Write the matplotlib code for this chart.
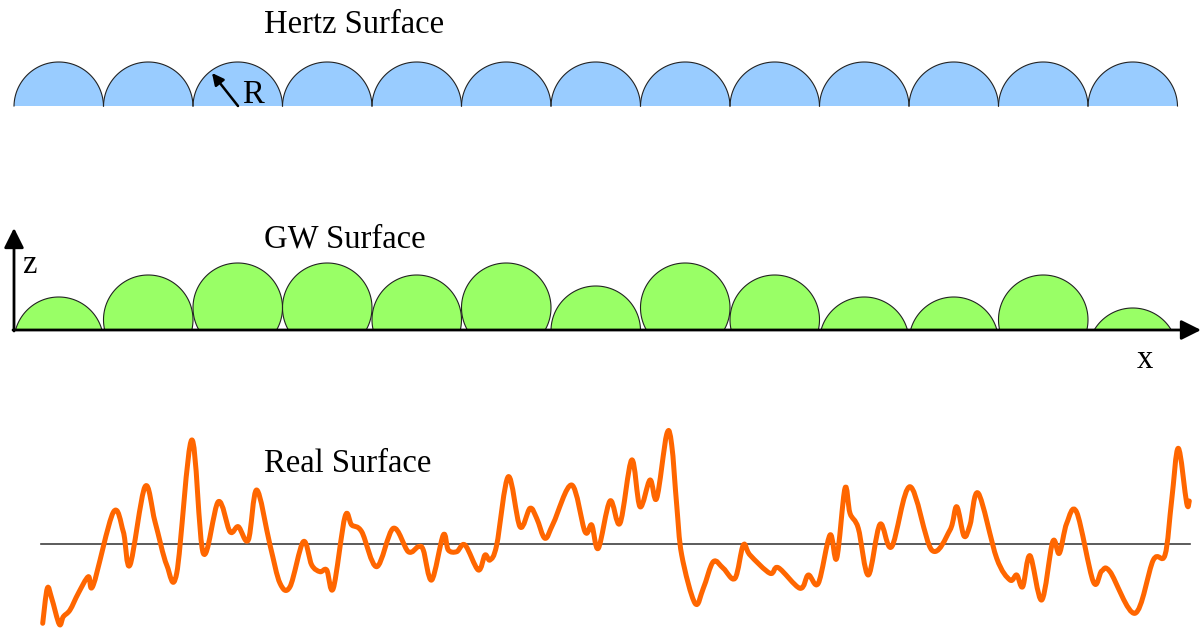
import numpy as np
from matplotlib import pyplot as plt
from matplotlib.path import Path
from matplotlib.patches import PathPatch

# Surface sketch: Hertz, GW (Greenwood-Williamson) and a real rough profile.
# Everything is laid out in pixel units of the 1203x628 picture (y grows downwards).

# Hertz surface: equal asperities
hertz_count = 13
hertz_height = 44.0

# GW surface: same radius, different heights (pixels above the x axis)
gw_heights = [33, 55, 67, 67, 55, 67, 44, 67, 55, 33, 33, 55, 22]

# Real surface profile (x, y in picture pixels)
profile_x = [42.7, 47.3, 51.7, 59.3, 63.3, 70, 78.3, 88.3, 93.3, 113.3, 123.3, 130,
             145, 155, 166.7, 176.7, 191.7, 203.3, 218.3, 230, 238.3, 248.3, 256.7,
             270, 280, 290, 303.3, 311.7, 320, 326.7, 333.3, 345, 351.7, 361.7,
             376.7, 393.3, 408.3, 418.3, 423.3, 431.7, 443.3, 448.3, 456.7, 465,
             478.3, 485, 490, 496.7, 508.3, 520, 530, 536.7, 545, 553.3, 571.7,
             585, 591.7, 598.3, 610, 620, 631.7, 640, 650, 656.7, 666.7, 671.7,
             676.7, 681.7, 695, 703.3, 713.3, 723.3, 735, 743.3, 750, 770, 778.3,
             800, 808.3, 818.3, 830, 836.7, 845, 850, 858.3, 868.3, 880, 891.7,
             910, 931.7, 950, 956.7, 964, 970, 978.3, 996.7, 1010, 1016.7,
             1022.7, 1030, 1041.7, 1052.7, 1059.3, 1066.7, 1076.7, 1093.3,
             1101.7, 1110, 1135, 1153.3, 1165, 1171.7, 1178.3, 1186.7, 1189.3]
profile_y = [623.3, 588.3, 598.3, 624.3, 616.7, 610, 593.3, 576.7, 585, 512.3, 531.7, 565,
             486.7, 521.7, 565, 573.3, 440, 553.3, 501.7, 531.7, 526.7, 540, 490,
             545, 583.3, 586.7, 541.7, 565, 571.7, 570, 588.3, 516.7, 525, 531.7,
             566.7, 528.3, 551.7, 546.7, 550, 580, 535, 550, 551.7, 545,
             570, 555, 560, 545, 476.7, 526.7, 508.3, 518.3, 538.3, 523.3, 485,
             531.7, 525, 548.3, 501, 523.3, 460, 506.7, 480, 498.3, 434.3, 445,
             505, 555, 603.3, 588.3, 561.7, 568.3, 578.3, 545, 555, 573.3, 567.7,
             588.3, 575, 583.3, 535, 558.3, 488.3, 513.3, 528.3, 575, 524.3, 546.7,
             486.7, 550, 530, 506.7, 536, 525, 493.3, 558.3, 580, 575,
             586.7, 555.7, 600, 541.7, 553.3, 523.3, 512.3, 581.7,
             571, 571.7, 613.3, 560, 555, 500, 448.3, 503.3, 501]

titles = ['Hertz Surface', 'GW Surface', 'Real Surface']

# layout (pixels)
x_left = 14.0
pitch = 89.5
radius = 44.75
hertz_base = 106.0
gw_base = 330.0
mean_y = 544.0

serif = 'Liberation Serif'
fsize = 23.5


def cap_points(cx, base, h, r):
    # circle of radius r whose top sits h above base; keep the part above base
    d = h - r
    a = np.arcsin(np.clip(-d / r, -1, 1))
    t = np.linspace(a, np.pi - a, 120)
    return cx + r * np.cos(t), base - (d + r * np.sin(t))


def smooth_path(xs, ys):
    # Catmull-Rom through the points, drawn as cubic Bezier segments
    p = np.column_stack([xs, ys])
    p = np.vstack([p[0], p, p[-1]])
    verts = [p[1]]
    codes = [Path.MOVETO]
    for i in range(1, len(p) - 2):
        c1 = p[i] + (p[i + 1] - p[i - 1]) / 6
        c2 = p[i + 1] - (p[i + 2] - p[i]) / 6
        verts += [c1, c2, p[i + 1]]
        codes += [Path.CURVE4] * 3
    return Path(verts, codes)


fig = plt.figure(figsize=(12.03, 6.28), dpi=100)
ax = fig.add_axes([0, 0, 1, 1])
ax.set_xlim(0, 1203)
ax.set_ylim(628, 0)
ax.axis('off')

# Hertz caps
for i in range(hertz_count):
    cx = x_left + pitch / 2 + pitch * i
    xs, ys = cap_points(cx, hertz_base, hertz_height, radius)
    ax.fill(xs, ys, color='#99ccff', lw=0, zorder=1)
    ax.plot(xs, ys, color='#222222', lw=0.8, zorder=2)

ax.annotate('', xy=(212, 73), xytext=(238, 106),
            arrowprops=dict(arrowstyle='-|>,head_length=0.7,head_width=0.35',
                            color='black', lw=1.8, shrinkA=0, shrinkB=0), zorder=3)
ax.text(242, 103, 'R', fontsize=fsize, family=serif, ha='left', va='baseline')

# GW caps
for i, h in enumerate(gw_heights):
    cx = x_left + pitch / 2 + pitch * i
    xs, ys = cap_points(cx, gw_base, h, radius)
    ax.fill(xs, ys, color='#99ff66', lw=0, zorder=1)
    ax.plot(xs, ys, color='#222222', lw=0.8, zorder=2)

# axes arrows
ax.annotate('', xy=(1201, gw_base), xytext=(x_left - 1, gw_base),
            arrowprops=dict(arrowstyle='-|>,head_length=1.2,head_width=0.6',
                            color='black', lw=2, shrinkA=0, shrinkB=0), zorder=3)
ax.annotate('', xy=(x_left, 228), xytext=(x_left, gw_base + 1),
            arrowprops=dict(arrowstyle='-|>,head_length=1.2,head_width=0.6',
                            color='black', lw=2, shrinkA=0, shrinkB=0), zorder=3)
ax.text(22, 273, 'z', fontsize=fsize, family=serif, ha='left', va='baseline')
ax.text(1137, 368, 'x', fontsize=fsize, family=serif, ha='left', va='baseline')

# Real surface
ax.plot([41, 1190], [mean_y, mean_y], color='#404040', lw=1.2, zorder=1)
ax.add_patch(PathPatch(smooth_path(profile_x, profile_y), fill=False,
                       edgecolor='#ff6600', lw=3.6, joinstyle='round',
                       capstyle='round', zorder=2))

# titles
for label, y in zip(titles, [33, 247, 472]):
    ax.text(264, y, label, fontsize=fsize, family=serif, ha='left', va='baseline')

fig.savefig('out.png', dpi=100)
